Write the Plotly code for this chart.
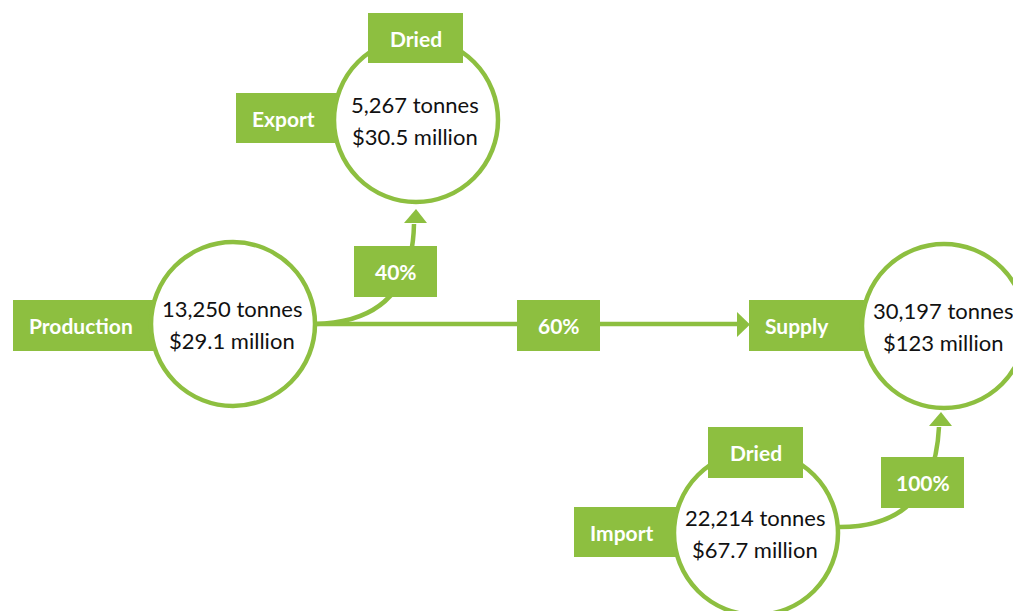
import plotly.graph_objects as go

# ---- data ----
node_names = ["Export", "Production", "Supply", "Import"]
node_tonnes = ["5,267 tonnes", "13,250 tonnes", "30,197 tonnes", "22,214 tonnes"]
node_values = ["$30.5 million", "$29.1 million", "$123 million", "$67.7 million"]
node_tags = ["Dried", None, None, "Dried"]
flow_from = ["Production", "Production", "Import"]
flow_to = ["Export", "Supply", "Supply"]
flow_pct = ["40%", "60%", "100%"]

# ---- layout (pixel coordinates) ----
GREEN = "#8DBF40"
W, H = 1013, 611
R = 82
FONT = "Lato"
centers = {"Export": (416, 120), "Production": (233, 324),
           "Supply": (944, 326), "Import": (756, 533)}
name_boxes = {"Export": (236, 93, 340, 143), "Production": (13, 300, 160, 351),
              "Supply": (749, 300, 870, 351), "Import": (574, 507, 680, 557)}
tag_boxes = {"Export": (368, 13, 463, 63), "Import": (708, 427, 803, 478)}
pct_boxes = [(354, 246, 437, 297), (517, 300, 600, 351), (881, 457, 964, 508)]
flow_paths = [
    "M 315 324 Q 412 322 414 224",
    "M 315 324 L 740 324",
    "M 838 527 Q 934 528 939 427",
]
arrow_heads = [
    "M 404 223 L 427 223 L 416 209 Z",
    "M 737 312 L 737 337 L 750 324.5 Z",
    "M 929 426 L 952 426 L 941 412 Z",
]

shapes = []
annotations = []

# flow lines and arrowheads
for p in flow_paths:
    shapes.append(dict(type="path", path=p, line=dict(color=GREEN, width=4.5),
                       fillcolor="rgba(0,0,0,0)", layer="above"))
for p in arrow_heads:
    shapes.append(dict(type="path", path=p, line=dict(color=GREEN, width=0),
                       fillcolor=GREEN, layer="above"))

# name boxes (behind circles)
for name in node_names:
    x0, y0, x1, y1 = name_boxes[name]
    shapes.append(dict(type="rect", x0=x0, y0=y0, x1=x1, y1=y1,
                       fillcolor=GREEN, line=dict(width=0), layer="above"))
    annotations.append(dict(x=x0 + 14, y=(y0 + y1) / 2, text="<b>%s</b>" % name,
                            xanchor="left", yanchor="middle", showarrow=False,
                            font=dict(family=FONT, size=21, color="white")))

# circles
for name, t, v in zip(node_names, node_tonnes, node_values):
    cx, cy = centers[name]
    shapes.append(dict(type="circle", x0=cx - R, y0=cy - R, x1=cx + R, y1=cy + R,
                       fillcolor="white", line=dict(color=GREEN, width=4.5),
                       layer="above"))
    annotations.append(dict(x=cx - 1, y=cy - 15.5, text=t, showarrow=False,
                            xanchor="center", yanchor="middle",
                            font=dict(family=FONT, size=22, color="#111111")))
    annotations.append(dict(x=cx - 1, y=cy + 16, text=v, showarrow=False,
                            xanchor="center", yanchor="middle",
                            font=dict(family=FONT, size=22, color="#111111")))

# tag boxes (on top of circles)
for name, tag in zip(node_names, node_tags):
    if tag is None:
        continue
    x0, y0, x1, y1 = tag_boxes[name]
    shapes.append(dict(type="rect", x0=x0, y0=y0, x1=x1, y1=y1,
                       fillcolor=GREEN, line=dict(width=0), layer="above"))
    annotations.append(dict(x=(x0 + x1) / 2, y=(y0 + y1) / 2, text="<b>%s</b>" % tag,
                            showarrow=False, xanchor="center", yanchor="middle",
                            font=dict(family=FONT, size=21, color="white")))

# percentage boxes
for pct, (x0, y0, x1, y1) in zip(flow_pct, pct_boxes):
    shapes.append(dict(type="rect", x0=x0, y0=y0, x1=x1, y1=y1,
                       fillcolor=GREEN, line=dict(width=0), layer="above"))
    annotations.append(dict(x=(x0 + x1) / 2, y=(y0 + y1) / 2, text="<b>%s</b>" % pct,
                            showarrow=False, xanchor="center", yanchor="middle",
                            font=dict(family=FONT, size=21, color="white")))

fig = go.Figure()
fig.update_layout(
    width=W, height=H,
    margin=dict(l=0, r=0, t=0, b=0),
    paper_bgcolor="white", plot_bgcolor="white",
    xaxis=dict(range=[0, W], visible=False, fixedrange=True),
    yaxis=dict(range=[H, 0], visible=False, fixedrange=True),
    shapes=shapes, annotations=annotations, showlegend=False,
)
fig.write_html("out.html", config={"displayModeBar": False})
